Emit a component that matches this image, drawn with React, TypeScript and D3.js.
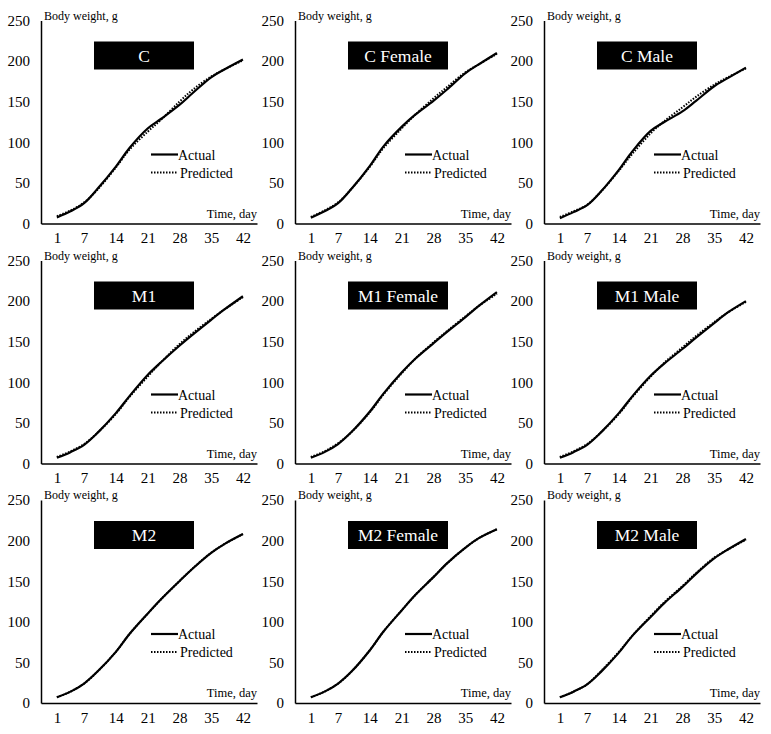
import * as d3 from "d3";
import React, { useEffect, useRef } from "react";

const days = [1, 4, 7, 10, 14, 17, 21, 24, 28, 31, 35, 38, 42];
const dayTicks = [1, 7, 14, 21, 28, 35, 42];
const weightTicks = [0, 50, 100, 150, 200, 250];
const panelTitles = ["C", "C Female", "C Male", "M1", "M1 Female", "M1 Male", "M2", "M2 Female", "M2 Male"];

const cActual = [7.5, 15, 25, 43, 70, 93, 117, 129, 146, 161, 180, 190, 202];
const cPredicted = [9, 16, 26, 42, 69, 91, 113, 128, 150, 165, 181, 190, 201];
const cFemaleActual = [7, 15, 25, 43, 71, 95, 119, 134, 151, 165, 185, 196, 210];
const cFemalePredicted = [8, 16, 26, 43, 70, 93, 117, 134, 154, 168, 186, 196, 209];
const cMaleActual = [6.5, 14, 22.5, 39, 66, 89, 114, 125, 138, 151, 169, 179, 192];
const cMalePredicted = [8, 15, 23, 39, 65, 86, 111, 126, 143, 156, 171, 180, 191];
const m1Actual = [7, 14, 23, 38, 62, 83, 109, 125, 145, 159, 177, 190, 206];
const m1Predicted = [8, 15, 24, 38, 61, 82, 107, 125, 147, 161, 178, 190, 205];
const m1FemaleActual = [7, 14, 24, 39, 64, 86, 112, 129, 148, 162, 180, 194, 211];
const m1FemalePredicted = [8, 15, 25, 39, 63, 85, 111, 129, 149, 163, 181, 194, 209];
const m1MaleActual = [7, 14, 23, 38, 62, 83, 108, 123, 141, 155, 173, 186, 200];
const m1MalePredicted = [8, 15, 24, 38, 61, 82, 107, 124, 143, 157, 174, 186, 199];
const m2Actual = [7, 14, 24, 39, 63, 85, 110, 128, 150, 166, 185, 196, 208];
const m2Predicted = [7, 14, 24, 39, 63, 85, 110, 128, 150, 166, 185, 196, 208];
const m2FemaleActual = [7, 14, 24, 39, 65, 88, 114, 133, 155, 172, 191, 203, 214];
const m2FemalePredicted = [7, 14, 24, 39, 65, 88, 114, 133, 155, 172, 191, 203, 214];
const m2MaleActual = [7, 14, 23, 38, 62, 83, 106, 123, 143, 159, 178, 189, 202];
const m2MalePredicted = [7, 14, 23, 39, 63, 83, 107, 124, 144, 160, 179, 189, 201];

const actualSeries = [cActual, cFemaleActual, cMaleActual, m1Actual, m1FemaleActual, m1MaleActual, m2Actual, m2FemaleActual, m2MaleActual];
const predictedSeries = [cPredicted, cFemalePredicted, cMalePredicted, m1Predicted, m1FemalePredicted, m1MalePredicted, m2Predicted, m2FemalePredicted, m2MalePredicted];

const FONT = "Liberation Serif, DejaVu Serif, serif";

const App = () => {
  const ref = useRef<SVGSVGElement | null>(null);

  useEffect(() => {
    const svg = d3.select(ref.current);
    svg.selectAll("*").remove();

    const colX = [41, 295, 544];
    const rowY = [20.5, 260.5, 500];
    const plotW = 216;
    const plotH = 203;

    const x = d3.scaleLinear().domain([-2.5, 45.1]).range([0, plotW]);
    const y = d3.scaleLinear().domain([0, 250]).range([plotH, 0]);

    panelTitles.forEach((title, i) => {
      const g = svg
        .append("g")
        .attr("font-family", FONT)
        .attr("transform", `translate(${colX[i % 3]},${rowY[Math.floor(i / 3)]})`);

      // axes, no tick marks
      const xAxis = g
        .append("g")
        .attr("transform", `translate(0,${plotH})`)
        .call(d3.axisBottom(x).tickValues(dayTicks).tickSize(0).tickSizeOuter(0).tickPadding(9));
      const yAxis = g
        .append("g")
        .call(d3.axisLeft(y).tickValues(weightTicks).tickSize(0).tickSizeOuter(0).tickPadding(11));

      [xAxis, yAxis].forEach((a) => {
        a.attr("font-family", FONT).attr("font-size", 15);
        a.select(".domain").attr("stroke", "#000").attr("stroke-width", 1.5);
        a.selectAll("text").attr("fill", "#000");
      });

      g.append("text")
        .attr("x", 3)
        .attr("y", -1)
        .attr("font-size", 12)
        .text("Body weight, g");

      g.append("text")
        .attr("x", plotW)
        .attr("y", plotH - 6)
        .attr("text-anchor", "end")
        .attr("font-size", 12.5)
        .text("Time, day");

      // title box
      g.append("rect")
        .attr("x", 53)
        .attr("y", 21)
        .attr("width", 100)
        .attr("height", 28)
        .attr("fill", "#000");
      g.append("text")
        .attr("x", 103)
        .attr("y", 41)
        .attr("text-anchor", "middle")
        .attr("font-size", 17.5)
        .attr("fill", "#fff")
        .text(title);

      const line = d3
        .line<number>()
        .x((_, k) => x(days[k]))
        .y((d) => y(d))
        .curve(d3.curveCatmullRom.alpha(0.5));

      g.append("path")
        .attr("d", line(actualSeries[i]))
        .attr("fill", "none")
        .attr("stroke", "#000")
        .attr("stroke-width", 2.2);

      g.append("path")
        .attr("d", line(predictedSeries[i]))
        .attr("fill", "none")
        .attr("stroke", "#000")
        .attr("stroke-width", 2)
        .attr("stroke-dasharray", "1.5,1.5");

      // legend
      const legend = g.append("g").attr("transform", "translate(110,134)");
      legend.append("line").attr("x1", 0).attr("x2", 27).attr("y1", 0).attr("y2", 0)
        .attr("stroke", "#000").attr("stroke-width", 2.2);
      legend.append("text").attr("x", 27).attr("y", 5)
        .attr("font-size", 14).text("Actual");
      legend.append("line").attr("x1", 0).attr("x2", 27).attr("y1", 18).attr("y2", 18)
        .attr("stroke", "#000").attr("stroke-width", 2).attr("stroke-dasharray", "1.5,1.5");
      legend.append("text").attr("x", 29).attr("y", 23)
        .attr("font-size", 14).text("Predicted");
    });
  }, []);

  return (
    <svg
      ref={ref}
      width={771}
      height={734}
      style={{ position: "absolute", left: 0, top: 0, background: "#fff" }}
    />
  );
};

export default App;
